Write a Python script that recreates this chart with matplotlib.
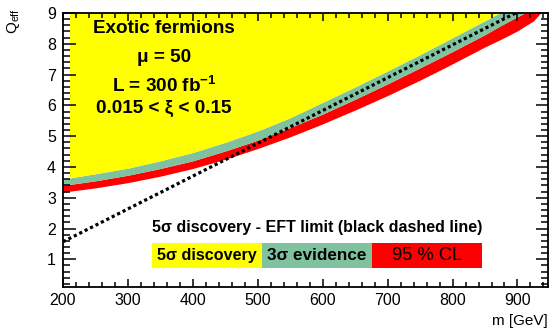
import numpy as np
import matplotlib
matplotlib.use("Agg")
import matplotlib.pyplot as plt
from matplotlib.patches import Rectangle

plt.rcParams["font.family"] = ["Liberation Sans", "DejaVu Sans"]
plt.rcParams["mathtext.fontset"] = "custom"
plt.rcParams["mathtext.rm"] = "Liberation Sans"
plt.rcParams["mathtext.bf"] = "Liberation Sans:bold"
plt.rcParams["mathtext.it"] = "Liberation Sans:italic"

# ==========================================================
# Dados
# ==========================================================
massa = [200, 210, 250, 300, 350, 400, 450, 500, 550, 600, 650,
         700, 750, 800, 850, 875, 900, 925, 950]
q_5sigma = [3.60, 3.64, 3.78, 3.96, 4.20, 4.47, 4.80, 5.17, 5.60, 6.10,
            6.60, 7.12, 7.65, 8.20, 8.75, 9.03, 9.30, 9.60, 9.90]
q_3sigma = [3.40, 3.43, 3.55, 3.73, 3.95, 4.20, 4.52, 4.87, 5.28, 5.72,
            6.20, 6.70, 7.22, 7.75, 8.30, 8.60, 8.88, 9.15, 9.45]
q_95cl = [3.18, 3.21, 3.32, 3.49, 3.70, 3.95, 4.25, 4.60, 4.98, 5.40,
          5.85, 6.32, 6.82, 7.35, 7.90, 8.15, 8.42, 8.75, 9.35]

# limite EFT (linha tracejada preta)
massa_eft = [200, 897]
q_eft = [1.57, 9.0]

legenda = ["5σ discovery", "3σ evidence", "95 % CL"]

amarelo = "#ffff00"
verde = "#80c2a0"
vermelho = "#ff0000"

m = np.array(massa)
q5 = np.array(q_5sigma)
q3 = np.array(q_3sigma)
q95 = np.array(q_95cl)

# ==========================================================
# Figura
# ==========================================================
fig = plt.figure(figsize=(5.52, 3.29), dpi=100)
ax = fig.add_axes([63 / 552, 1 - 287 / 329, 485 / 552, 274 / 329])

ax.fill_between(m, q95, q3, color=vermelho, lw=0)
ax.fill_between(m, q3, q5, color=verde, lw=0)
ax.fill_between(m, q5, 9.5, where=m >= 210, color=amarelo, lw=0)

ax.plot(massa_eft, q_eft, color="black", lw=2.3,
        linestyle=(0, (1, 0.9)), dash_capstyle="butt")

ax.set_xlim(200, 947)
ax.set_ylim(0.1, 9)

ax.set_xticks(np.arange(200, 901, 100))
ax.set_xticks(np.arange(200, 947, 20), minor=True)
ax.set_yticks(np.arange(1, 10, 1))
ax.set_yticks(np.arange(0.2, 9.01, 0.2), minor=True)

ax.tick_params(axis="both", which="both", direction="in",
               top=True, right=True, width=1.1, labelsize=11.5)
ax.tick_params(axis="x", which="major", length=6, pad=4)
ax.tick_params(axis="x", which="minor", length=3.5)
ax.tick_params(axis="y", which="major", length=9, pad=5)
ax.tick_params(axis="y", which="minor", length=5)
for lado in ax.spines.values():
    lado.set_linewidth(1.3)

# textos
txt = dict(ha="center", va="center", fontsize=13.6, fontweight="bold",
           transform=ax.transAxes)
cx = (164 - 63) / 485
ax.text(cx, 1 - (28 - 13) / 274, "Exotic fermions", **txt)
ax.text(cx, 1 - (57 - 13) / 274, "μ = 50", **txt)
ax.text(cx, 1 - (86 - 13) / 274, r"L = 300 fb$^{\mathbf{-1}}$", **txt)
ax.text(cx, 1 - (108 - 13) / 274, "0.015 < ξ < 0.15", **txt)

# legenda
x0 = (152 - 63) / 485
larg = 110 / 485
y0 = 1 - (268 - 13) / 274
alt = 25 / 274
ax.text(x0, 1 - (227 - 13) / 274,
        "5σ discovery - EFT limit (black dashed line)",
        ha="left", va="center", fontsize=11.5, fontweight="bold",
        transform=ax.transAxes)
cores = [amarelo, verde, vermelho]
pesos = ["bold", "bold", "normal"]
tamanhos = [11.6, 12.3, 13.2]
for i, (rotulo, cor) in enumerate(zip(legenda, cores)):
    ax.add_patch(Rectangle((x0 + i * larg, y0), larg, alt, color=cor,
                           lw=0, transform=ax.transAxes, zorder=3))
    ax.text(x0 + (i + 0.5) * larg, y0 + alt / 2, rotulo, ha="center",
            va="center", fontsize=tamanhos[i], fontweight=pesos[i],
            transform=ax.transAxes, zorder=4)

fig.text(548 / 552, 1 - 321 / 329, "m [GeV]", ha="right", va="center",
         fontsize=11)
fig.text(13 / 552, 1 - 8 / 329, r"Q$_{\mathrm{eff}}$", ha="center",
         va="top", rotation=90, fontsize=11)

fig.savefig("out.png", dpi=100)
